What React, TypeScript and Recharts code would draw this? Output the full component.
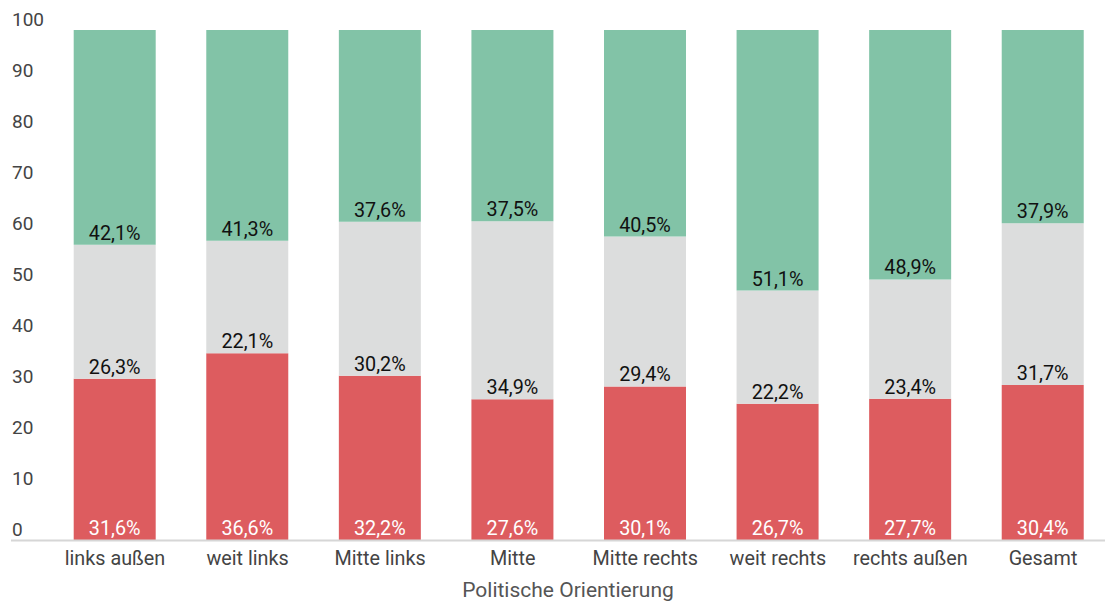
import React from 'react';
import { BarChart, Bar, XAxis, YAxis, LabelList } from 'recharts';

const categories = ['links außen', 'weit links', 'Mitte links', 'Mitte', 'Mitte rechts', 'weit rechts', 'rechts außen', 'Gesamt'];
const redValues = [31.6, 36.6, 32.2, 27.6, 30.1, 26.7, 27.7, 30.4];
const greyValues = [26.3, 22.1, 30.2, 34.9, 29.4, 22.2, 23.4, 31.7];
const greenValues = [42.1, 41.3, 37.6, 37.5, 40.5, 51.1, 48.9, 37.9];
const yTicks = [0, 10, 20, 30, 40, 50, 60, 70, 80, 90, 100];
const axisTitle = 'Politische Orientierung';

const data = categories.map((name, i) => ({
  name,
  red: redValues[i],
  grey: greyValues[i],
  green: greenValues[i],
}));

const fmt = (v: number) => v.toFixed(1).replace('.', ',') + '%';

// label sits at the bottom of each segment
const segmentLabel = (color: string) => (props: any) => {
  const { x, y, width, height, value } = props;
  return (
    <text
      x={x + width / 2}
      y={y + height - 5}
      textAnchor="middle"
      fill={color}
      fontSize={19.8}
      fontFamily="Roboto"
    >
      {fmt(value)}
    </text>
  );
};

const YTick = (props: any) => {
  const { y, payload } = props;
  return (
    <g>
      <text x={12} y={y - 4.5} fill="#444" fontSize={19} fontFamily="Roboto">
        {payload.value}
      </text>
      {payload.value === 0 && (
        <line x1={11} x2={1105} y1={y + 0.5} y2={y + 0.5} stroke="#d6d6d6" strokeWidth={2} />
      )}
    </g>
  );
};

const XTick = (props: any) => {
  const { x, y, payload } = props;
  return (
    <text x={x} y={y} dy={25} textAnchor="middle" fill="#444" fontSize={19.8} fontFamily="Roboto">
      {payload.value}
    </text>
  );
};

const AxisTitle = (props: any) => {
  const { viewBox } = props;
  return (
    <text
      x={viewBox.x + viewBox.width / 2 - 11}
      y={597}
      textAnchor="middle"
      fill="#555"
      fontSize={21}
      fontFamily="Roboto"
    >
      {axisTitle}
    </text>
  );
};

export default function App() {
  return (
    <div style={{ position: 'absolute', left: 0, top: 0, width: 1105, height: 601, background: '#fff' }}>
      <BarChart
        width={1105}
        height={601}
        data={data}
        margin={{ top: 30, right: -4.3, bottom: 31, left: 0 }}
        style={{ fontFamily: 'Roboto' }}
      >
        <XAxis
          dataKey="name"
          height={30}
          axisLine={false}
          tickLine={false}
          tickSize={0}
          tickMargin={0}
          interval={0}
          tick={<XTick />}
          label={<AxisTitle />}
        />
        <YAxis
          width={48.7}
          domain={[0, 100]}
          ticks={yTicks}
          interval={0}
          axisLine={false}
          tickLine={false}
          tick={<YTick />}
        />
        <Bar dataKey="red" stackId="a" fill="#dd5c5f" barSize={82} isAnimationActive={false}>
          <LabelList dataKey="red" content={segmentLabel('#ffffff')} />
        </Bar>
        <Bar dataKey="grey" stackId="a" fill="#dcdddd" barSize={82} isAnimationActive={false}>
          <LabelList dataKey="grey" content={segmentLabel('#111111')} />
        </Bar>
        <Bar dataKey="green" stackId="a" fill="#82c3a7" barSize={82} isAnimationActive={false}>
          <LabelList dataKey="green" content={segmentLabel('#111111')} />
        </Bar>
      </BarChart>
    </div>
  );
}
